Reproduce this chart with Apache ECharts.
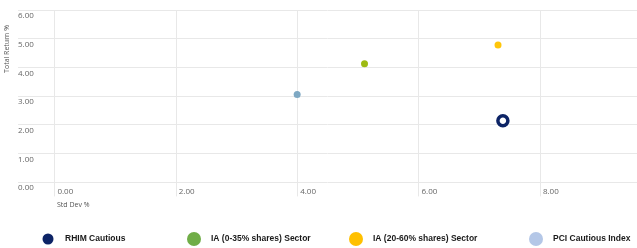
<!DOCTYPE html>
<html>
<head>
<meta charset="utf-8">
<script src="https://cdn.jsdelivr.net/npm/echarts@6/dist/echarts.min.js"></script>
<style>
  html, body { margin: 0; padding: 0; background: #fff; }
  #chart { width: 637px; height: 248px; }
</style>
</head>
<body>
<div id="chart"></div>
<script>
// Dữ liệu của biểu đồ
const seriesNames = ['RHIM Cautious', 'IA (0-35% shares) Sector', 'IA (20-60% shares) Sector', 'PCI Cautious Index'];
const stdDev = [7.39, 5.11, 7.31, 4.00];
const totalReturn = [2.14, 4.13, 4.78, 3.05];
const xTicks = [0, 2, 4, 6, 8];
const yTicks = [0, 1, 2, 3, 4, 5, 6];

// màu điểm trên biểu đồ và màu trong chú thích
const pointColors = ['#ffffff', '#9dba12', '#ffc60a', '#7ea8c3'];
const legendColors = ['#0d2466', '#70ad47', '#ffc000', '#b4c7e7'];
const legendLeft = [40, 187, 349, 529];
const legendIconSize = [11, 14, 14, 14];

var chartDom = document.getElementById('chart');
var myChart = echarts.init(chartDom);

var series = seriesNames.map(function (name, i) {
    var s = {
        name: name,
        type: 'scatter',
        data: [[stdDev[i], totalReturn[i]]],
        symbolSize: 7,
        itemStyle: { color: pointColors[i], opacity: 1 }
    };
    if (i === 0) {
        s.symbolSize = 10;
        s.itemStyle = { color: '#ffffff', borderColor: '#0d2466', borderWidth: 3.5, opacity: 1 };
    }
    return s;
});

// mỗi mục chú thích là một legend riêng để đặt đúng vị trí
var legends = seriesNames.map(function (name, i) {
    return {
        left: legendLeft[i] - (14 - legendIconSize[i]) / 2 - 5 + (i === 0 ? 4 : 0),
        top: 234 - legendIconSize[i] / 2,
        icon: 'circle',
        itemWidth: legendIconSize[i],
        itemHeight: legendIconSize[i],
        itemGap: 0,
        selectedMode: false,
        data: [{ name: name, itemStyle: { color: legendColors[i], borderWidth: 0 } }],
        textStyle: {
            fontFamily: 'Liberation Sans',
            fontSize: 8.5,
            fontWeight: 'bold',
            color: '#1a1a1a',
            padding: [0, 0, 0, 17 - legendIconSize[i] / 2 - 5]
        }
    };
});

var option = {
    animation: false,
    grid: { left: 18, right: 0, top: 10, height: 186.4 },
    xAxis: {
        type: 'value',
        min: -0.6,
        max: 9.6,
        axisLine: { show: false },
        axisTick: { show: false, customValues: xTicks },
        splitLine: { show: true, lineStyle: { color: '#e8e8e8', width: 1 } },
        axisLabel: {
            customValues: xTicks,
            inside: true,
            margin: 1,
            align: 'left',
            verticalAlign: 'bottom',
            padding: [0, 0, 0, 3],
            fontFamily: 'Open Sans',
            fontSize: 8,
            color: '#666',
            formatter: function (v) { return v.toFixed(2); }
        }
    },
    yAxis: {
        type: 'value',
        min: -0.5,
        max: 6,
        axisLine: { show: false },
        axisTick: { show: false, customValues: yTicks },
        splitLine: { show: true, lineStyle: { color: '#e8e8e8', width: 1 } },
        axisLabel: {
            customValues: yTicks,
            inside: true,
            margin: 0,
            align: 'left',
            verticalAlign: 'top',
            padding: [2, 0, 0, 0],
            fontFamily: 'Open Sans',
            fontSize: 8,
            color: '#666',
            formatter: function (v) { return v.toFixed(2); }
        }
    },
    graphic: [
        {
            type: 'text',
            x: 7,
            y: 49,
            rotation: Math.PI / 2,
            style: {
                text: 'Total Return %',
                fontFamily: 'Open Sans',
                fontSize: 7,
                fill: '#555',
                align: 'center',
                verticalAlign: 'middle'
            }
        },
        {
            type: 'text',
            left: 57,
            top: 201,
            style: {
                text: 'Std Dev %',
                fontFamily: 'Open Sans',
                fontSize: 7,
                fill: '#555'
            }
        }
    ],
    legend: legends,
    series: series
};

myChart.setOption(option);
</script>
</body>
</html>
